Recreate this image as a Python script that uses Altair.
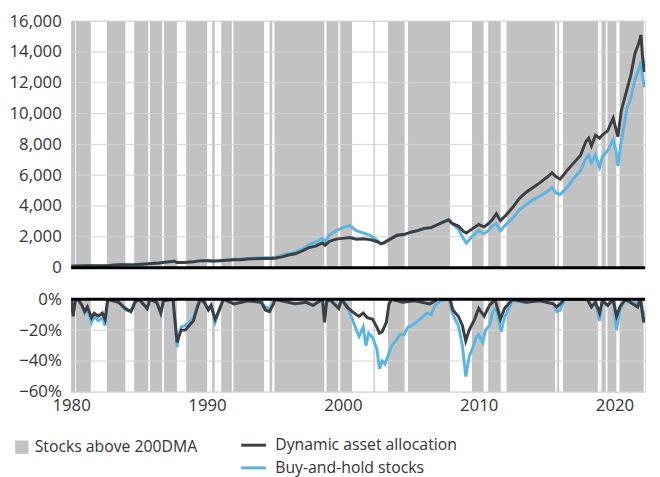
import altair as alt
import pandas as pd

FONT = "Open Sans"
TXT = "#333333"
GREY = "#c2c2c2"
DARK = "#3b3e42"
BLUE = "#5bb4e1"

# Periods with stocks above 200DMA (shaded)
band_start = [1980.0, 1980.36, 1982.63, 1984.64, 1985.8, 1986.84, 1988.47, 1990.38, 1991.05, 1991.95,
              1994.61, 1994.97, 1998.8, 1999.81, 2002.26, 2003.32, 2004.8, 2009.51, 2010.7, 2012.05,
              2015.78, 2016.21, 2019.04, 2019.48, 2020.37]
band_end = [1980.3, 1981.45, 1983.99, 1985.68, 1986.7, 1987.79, 1990.01, 1990.57, 1991.83, 1994.2,
            1994.8, 1998.63, 1999.67, 2000.68, 2002.35, 2004.55, 2007.89, 2010.36, 2011.62, 2015.63,
            2015.92, 2018.77, 2019.35, 2020.13, 2022.14]

# Cumulative value: dynamic asset allocation
dyn_year = [1980.0, 1980.5, 1981.0, 1981.5, 1982.0, 1982.6, 1983.0, 1983.5, 1984.0, 1984.5,
            1985.0, 1985.5, 1986.0, 1986.5, 1987.0, 1987.6, 1987.8, 1988.0, 1988.5, 1989.0,
            1989.5, 1990.0, 1990.5, 1991.0, 1991.5, 1992.0, 1992.5, 1993.0, 1993.5, 1994.0,
            1994.5, 1995.0, 1995.5, 1996.0, 1996.5, 1997.0, 1997.5, 1998.0, 1998.5, 1998.7,
            1999.0, 1999.5, 2000.0, 2000.5, 2001.0, 2001.5, 2002.0, 2002.5, 2002.8, 2003.0,
            2003.5, 2004.0, 2004.5, 2005.0, 2005.5, 2006.0, 2006.5, 2007.0, 2007.5, 2007.8,
            2008.0, 2008.5, 2008.9, 2009.1, 2009.5, 2010.0, 2010.4, 2010.7, 2011.0, 2011.3,
            2011.6, 2012.0, 2012.5, 2013.0, 2013.5, 2014.0, 2014.5, 2015.0, 2015.4, 2015.7,
            2016.0, 2016.5, 2017.0, 2017.5, 2017.9, 2018.1, 2018.3, 2018.6, 2018.9, 2019.1,
            2019.5, 2019.9, 2020.1, 2020.25, 2020.5, 2020.9, 2021.2, 2021.5, 2021.8, 2021.95,
            2022.05, 2022.2]
dyn_value = [100, 110, 125, 120, 118, 125, 160, 190, 185, 180,
             210, 240, 270, 300, 360, 420, 330, 330, 345, 380,
             440, 450, 430, 450, 480, 510, 520, 560, 580, 600,
             590, 610, 700, 820, 900, 1080, 1300, 1400, 1600, 1450,
             1700, 1850, 1900, 1950, 1850, 1880, 1820, 1700, 1550, 1600,
             1850, 2100, 2150, 2300, 2400, 2550, 2600, 2800, 3000, 3100,
             2900, 2700, 2350, 2250, 2500, 2800, 2650, 2850, 3100, 3500,
             3050, 3400, 3900, 4500, 4900, 5200, 5500, 5850, 6150, 5900,
             5750, 6300, 6800, 7300, 8200, 8400, 7900, 8600, 8400, 8600,
             8900, 9700, 9000, 8500, 10200, 11500, 12500, 13900, 14600, 15100,
             13800, 12700]

# Cumulative value: buy-and-hold stocks
bh_year = dyn_year
bh_value = [100, 110, 125, 118, 112, 120, 160, 195, 185, 185,
            215, 245, 280, 310, 380, 440, 320, 330, 350, 390,
            460, 470, 420, 470, 520, 550, 560, 600, 630, 650,
            640, 680, 800, 900, 1000, 1200, 1500, 1650, 1900, 1700,
            2100, 2400, 2600, 2750, 2400, 2250, 2100, 1800, 1550, 1600,
            1900, 2100, 2150, 2300, 2400, 2550, 2600, 2800, 3000, 3150,
            2900, 2500, 1850, 1600, 2000, 2400, 2200, 2400, 2700, 2850,
            2400, 2800, 3200, 3750, 4100, 4400, 4650, 4900, 5200, 4850,
            4750, 5200, 5800, 6300, 7100, 7300, 6800, 7300, 6500, 7200,
            7600, 8300, 7600, 6600, 8200, 10300, 11000, 12200, 12900, 13400,
            12500, 11700]

# Drawdowns
dyn_dd_year = [1980.0, 1980.15, 1980.3, 1980.5, 1980.8, 1981.0, 1981.2, 1981.5, 1981.7, 1982.0,
               1982.3, 1982.5, 1982.7, 1983.5, 1984.0, 1984.4, 1984.7, 1985.0, 1985.6, 1985.8,
               1986.3, 1986.6, 1986.8, 1987.5, 1987.8, 1987.9, 1988.1, 1988.4, 1988.7, 1989.0,
               1989.3, 1989.5, 1989.8, 1990.1, 1990.3, 1990.6, 1990.8, 1991.0, 1991.2, 1992.0,
               1993.0, 1994.0, 1994.3, 1994.6, 1994.9, 1995.0, 1996.5, 1997.3, 1997.8, 1998.5,
               1998.65, 1998.8, 1999.0, 1999.7, 1999.9, 2000.3, 2000.7, 2001.0, 2001.2, 2001.5,
               2001.8, 2002.2, 2002.5, 2002.7, 2002.9, 2003.2, 2003.4, 2003.6, 2004.4, 2005.3,
               2006.4, 2007.0, 2007.9, 2008.1, 2008.5, 2008.8, 2009.05, 2009.3, 2009.7, 2010.0,
               2010.4, 2010.8, 2011.2, 2011.6, 2011.9, 2012.2, 2012.5, 2013.5, 2014.5, 2015.5,
               2015.75, 2016.0, 2016.3, 2018.0, 2018.3, 2018.6, 2018.9, 2019.1, 2019.5, 2019.9,
               2020.15, 2020.4, 2020.8, 2021.7, 2021.9, 2022.15, 2022.22]
dyn_dd = [0, -0.11, -0.01, 0, -0.04, -0.08, -0.05, -0.12, -0.09, -0.11,
          -0.09, -0.13, 0, -0.02, -0.06, -0.08, -0.02, 0, -0.06, 0,
          -0.02, -0.09, -0.01, 0, -0.28, -0.25, -0.20, -0.20, -0.17, -0.14,
          -0.05, 0, -0.02, -0.07, -0.04, -0.13, -0.09, -0.05, 0, -0.03,
          -0.01, -0.02, -0.07, -0.08, -0.03, 0, -0.03, -0.02, -0.04, 0,
          -0.15, -0.02, 0, -0.06, 0, -0.05, -0.08, -0.10, -0.11, -0.09,
          -0.12, -0.13, -0.18, -0.22, -0.21, -0.15, -0.03, 0, -0.02, -0.01,
          -0.03, 0, 0, -0.07, -0.11, -0.17, -0.27, -0.20, -0.13, -0.06,
          -0.11, -0.04, 0, -0.13, -0.06, -0.03, 0, -0.02, -0.01, -0.03,
          -0.05, -0.03, 0, 0, -0.05, -0.02, -0.09, -0.01, -0.04, 0,
          -0.11, -0.05, 0, -0.05, 0, -0.15, -0.12]

bh_dd_year = [1980.0, 1980.15, 1980.3, 1980.5, 1980.8, 1981.0, 1981.2, 1981.5, 1981.7, 1982.0,
              1982.3, 1982.5, 1982.7, 1983.5, 1984.0, 1984.4, 1984.7, 1985.0, 1985.6, 1985.8,
              1986.3, 1986.6, 1986.8, 1987.5, 1987.8, 1987.9, 1988.1, 1988.4, 1988.7, 1989.0,
              1989.3, 1989.5, 1989.8, 1990.1, 1990.3, 1990.6, 1990.8, 1991.0, 1991.2, 1992.0,
              1993.0, 1994.0, 1994.3, 1994.6, 1994.9, 1995.0, 1996.5, 1997.3, 1997.8, 1998.5,
              1998.65, 1998.8, 1999.0, 1999.7, 1999.9, 2000.3, 2000.7, 2001.0, 2001.2, 2001.5,
              2001.7, 2001.9, 2002.2, 2002.5, 2002.7, 2002.9, 2003.1, 2003.3, 2003.6, 2003.9,
              2004.2, 2004.5, 2004.8, 2005.1, 2005.4, 2005.8, 2006.2, 2006.5, 2006.8, 2007.2,
              2007.8, 2008.1, 2008.5, 2008.8, 2009.05, 2009.3, 2009.5, 2009.8, 2010.0, 2010.3,
              2010.5, 2010.8, 2011.0, 2011.3, 2011.65, 2011.9, 2012.2, 2012.5, 2013.5, 2014.5,
              2015.5, 2015.75, 2016.0, 2016.3, 2018.0, 2018.3, 2018.6, 2018.9, 2019.1, 2019.5,
              2019.9, 2020.15, 2020.4, 2020.8, 2021.7, 2021.9, 2022.15, 2022.22]
bh_dd = [0, -0.10, -0.01, 0, -0.04, -0.09, -0.06, -0.15, -0.11, -0.14,
         -0.12, -0.17, 0, -0.02, -0.07, -0.08, -0.02, 0, -0.06, 0,
         -0.02, -0.09, -0.01, 0, -0.31, -0.25, -0.18, -0.17, -0.15, -0.12,
         -0.04, 0, -0.02, -0.06, -0.04, -0.15, -0.10, -0.04, 0, -0.03,
         -0.01, -0.02, -0.05, -0.06, -0.02, 0, -0.03, -0.02, -0.04, 0,
         -0.13, -0.02, 0, -0.05, 0, -0.04, -0.13, -0.20, -0.24, -0.18,
         -0.30, -0.22, -0.25, -0.32, -0.45, -0.40, -0.42, -0.37, -0.30, -0.27,
         -0.23, -0.23, -0.18, -0.17, -0.15, -0.12, -0.09, -0.10, -0.04, -0.01,
         0, -0.10, -0.17, -0.30, -0.50, -0.37, -0.33, -0.25, -0.23, -0.28,
         -0.20, -0.17, -0.09, -0.05, -0.21, -0.12, -0.06, -0.01, -0.02, -0.01,
         -0.03, -0.08, -0.07, 0, 0, -0.05, -0.02, -0.14, -0.01, -0.04,
         0, -0.20, -0.07, 0, -0.03, 0, -0.10, -0.13]

top_ticks = [2000, 4000, 6000, 8000, 10000, 12000, 14000, 16000]
bottom_ticks = [-0.2, -0.4, -0.6]
x_ticks = [1980, 1990, 2000, 2010, 2020]

S_DYN = "Dynamic asset allocation"
S_BH = "Buy-and-hold stocks"
BAND_LABEL = "Stocks above 200DMA"

bands = pd.DataFrame({"start": band_start, "end": band_end, "kind": BAND_LABEL})
top_lines = pd.concat([
    pd.DataFrame({"year": bh_year, "value": bh_value, "series": S_BH, "order": 0}),
    pd.DataFrame({"year": dyn_year, "value": dyn_value, "series": S_DYN, "order": 1}),
])
bottom_lines = pd.concat([
    pd.DataFrame({"year": bh_dd_year, "value": bh_dd, "series": S_BH, "order": 0}),
    pd.DataFrame({"year": dyn_dd_year, "value": dyn_dd, "series": S_DYN, "order": 1}),
])

XDOM = [1980, 2022.25]
xscale = alt.Scale(domain=XDOM, nice=False, zero=False)

fill_scale = alt.Scale(domain=[BAND_LABEL], range=[GREY])
stroke_scale = alt.Scale(domain=[S_DYN, S_BH], range=[DARK, BLUE])

W = 582


def panel(lines_df, ydom, yvals, yfmt, grid_vals, height, show_x, legends):
    yscale = alt.Scale(domain=ydom, nice=False, zero=False)
    yaxis = alt.Axis(values=yvals, format=yfmt, ticks=False, domain=False, grid=False,
                     labelPadding=10, labelFontSize=17, labelFont=FONT, labelColor=TXT, title=None)
    if show_x:
        xaxis = alt.Axis(values=x_ticks, format="d", ticks=False, domain=False, grid=False,
                         labelFlush=False, labelPadding=6, labelFontSize=17, labelFont=FONT,
                         labelColor=TXT, title=None)
    else:
        xaxis = alt.Axis(values=x_ticks, labels=False, ticks=False, domain=False, grid=False,
                         title=None)

    band_layer = alt.Chart(bands).mark_rect().encode(
        x=alt.X("start:Q", scale=xscale, axis=xaxis, title=None),
        x2="end:Q",
        fill=alt.Fill("kind:N", scale=fill_scale,
                      legend=alt.Legend(orient="none", legendX=-58, legendY=424, title=None,
                                        symbolType="square", symbolSize=180, symbolStrokeWidth=0,
                                        labelFontSize=16, labelFont=FONT, labelColor=TXT,
                                        labelOffset=5, labelLimit=400) if legends else None),
    )
    grid_layer = alt.Chart(pd.DataFrame({"v": grid_vals})).mark_rule(
        color="#d4d4d4", strokeWidth=1
    ).encode(y=alt.Y("v:Q", scale=yscale, axis=yaxis, title=None))
    line_layer = alt.Chart(lines_df).mark_line(strokeWidth=3, clip=True).encode(
        x=alt.X("year:Q", scale=xscale, axis=xaxis, title=None),
        y=alt.Y("value:Q", scale=yscale, axis=yaxis, title=None),
        stroke=alt.Stroke("series:N", scale=stroke_scale,
                          legend=alt.Legend(orient="none", legendX=171, legendY=416, title=None,
                                            symbolType="stroke", symbolSize=625,
                                            symbolStrokeWidth=3, labelFontSize=16,
                                            labelFont=FONT, labelColor=TXT, labelOffset=8,
                                            rowPadding=1, labelLimit=400) if legends else None),
        detail="series:N",
        order="order:Q",
    )
    zero_layer = alt.Chart(pd.DataFrame({"z": [0]})).mark_rule(
        color="black", strokeWidth=3
    ).encode(y=alt.Y("z:Q", scale=yscale, axis=yaxis, title=None))
    return alt.layer(band_layer, grid_layer, line_layer, zero_layer).properties(
        width=W, height=height
    )


top = panel(top_lines, [0, 16000], [0] + top_ticks, ",.0f", top_ticks, 250, False, True)
bottom = panel(bottom_lines, [-0.6, 0], [0] + bottom_ticks, ".0%", bottom_ticks, 94, True, False)

chart = alt.vconcat(top, bottom, spacing=32, bounds="flush").properties(
    padding={"left": 0, "top": 0, "right": 5, "bottom": 0}
).configure_view(stroke=None).configure(font=FONT)

chart.save("out.html", embed_options={"renderer": "svg", "actions": False})
